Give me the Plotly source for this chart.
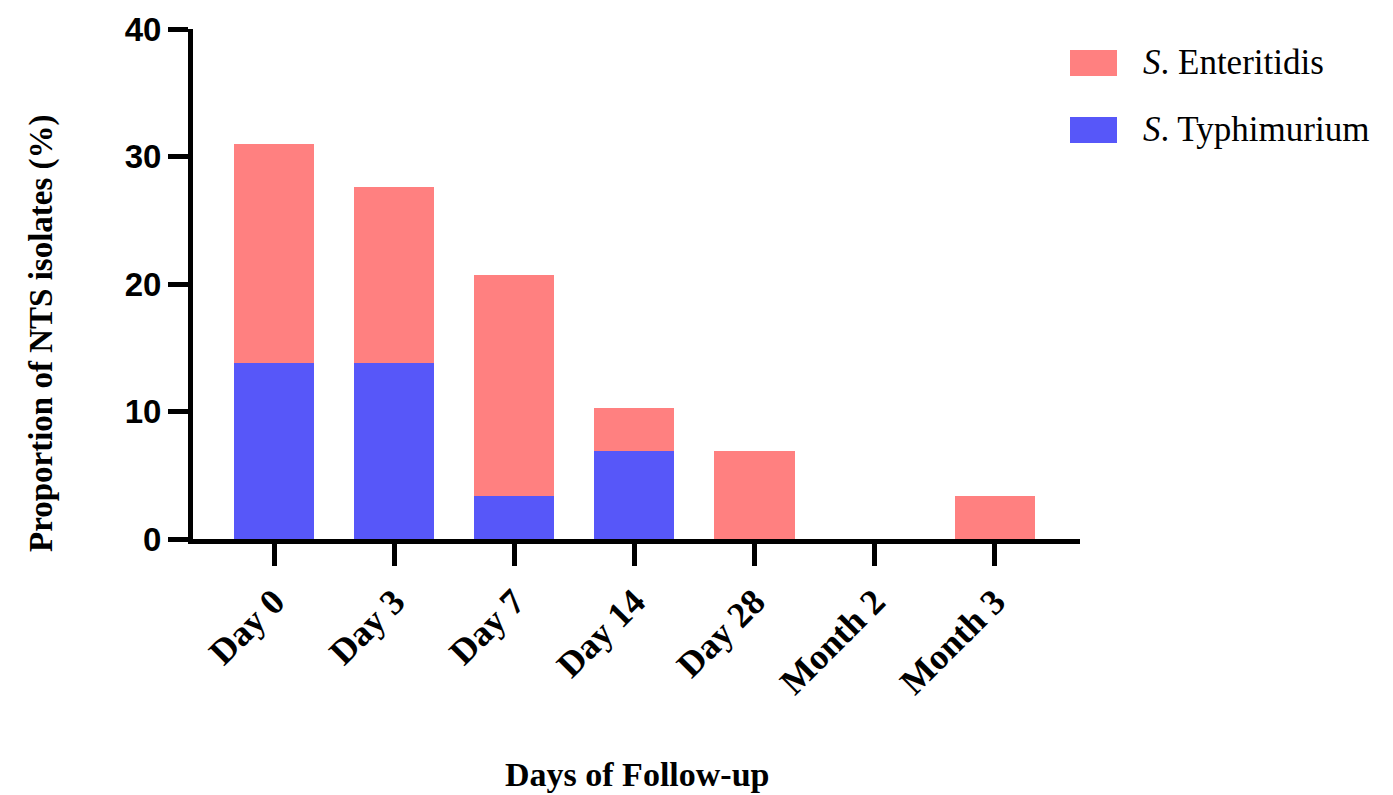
import plotly.graph_objects as go

categories = ["Day 0", "Day 3", "Day 7", "Day 14", "Day 28", "Month 2", "Month 3"]
typhimurium = [13.8, 13.8, 3.4, 6.9, 0.0, 0.0, 0.0]
enteritidis = [17.2, 13.8, 17.3, 3.4, 6.9, 0.0, 3.4]
y_ticks = [0, 10, 20, 30, 40]

PINK = "#FF8080"
BLUE = "#5757F9"
SERIF = "Liberation Serif, Times New Roman, serif"
SANS = "Liberation Sans, Arial, sans-serif"

W, H = 1385, 787
L, R, T, B = 185, 1072, 21, 531   # plot area in figure pixels

fig = go.Figure()
fig.add_trace(go.Bar(x=categories, y=typhimurium, name="S. Typhimurium",
                     marker=dict(color=BLUE, line=dict(width=0))))
fig.add_trace(go.Bar(x=categories, y=enteritidis, name="S. Enteritidis",
                     marker=dict(color=PINK, line=dict(width=0))))

fig.update_layout(
    barmode="stack",
    bargap=0.333,
    width=W, height=H,
    margin=dict(l=L, r=W - R, t=T, b=H - B, autoexpand=False),
    plot_bgcolor="white", paper_bgcolor="white",
    showlegend=False,
)
fig.update_xaxes(
    type="category", range=[-0.675, 6.71],
    showline=True, linecolor="black", linewidth=5,
    ticks="outside", ticklen=22, tickwidth=5, tickcolor="black",
    tickangle=-45, showgrid=False, zeroline=False,
    tickfont=dict(family=SERIF, size=36, color="black", weight="bold"),
)
fig.update_yaxes(
    range=[0, 40], tickvals=y_ticks,
    showline=True, linecolor="black", linewidth=5,
    ticks="outside", ticklen=20, tickwidth=5, tickcolor="black",
    showgrid=False, zeroline=False,
    tickfont=dict(family=SANS, size=33, color="black", weight="bold"),
)

def px_x(v):
    return (v - L) / (R - L)

def px_y(v):
    return (B - v) / (B - T)

# axis titles
fig.add_annotation(text="<b>Proportion of NTS isolates (%)</b>", xref="paper", yref="paper",
                   x=px_x(33), y=px_y(325), textangle=-90, showarrow=False,
                   xanchor="center", yanchor="middle",
                   font=dict(family=SERIF, size=33, color="black"))
fig.add_annotation(text="<b>Days of Follow-up</b>", xref="paper", yref="paper",
                   x=0.5, y=px_y(766), showarrow=False, yanchor="middle",
                   font=dict(family=SERIF, size=34, color="black"))

# legend drawn manually
legend_items = [("<i>S</i>. Enteritidis", PINK, 55), ("<i>S</i>. Typhimurium", BLUE, 122)]
for label, color, yc in legend_items:
    fig.add_shape(type="rect", xref="paper", yref="paper",
                  x0=px_x(1062), x1=px_x(1109),
                  y0=px_y(yc + 13), y1=px_y(yc - 13),
                  fillcolor=color, line=dict(width=0))
    fig.add_annotation(text=label, xref="paper", yref="paper",
                       x=px_x(1133), y=px_y(yc),
                       xanchor="left", yanchor="middle", showarrow=False,
                       font=dict(family=SERIF, size=35, color="black"))

fig.write_html("out.html")
